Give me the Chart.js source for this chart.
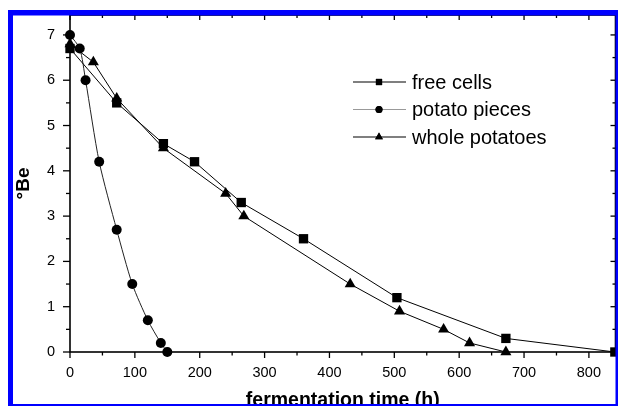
<!DOCTYPE html>
<html><head><meta charset="utf-8">
<script src="https://cdn.jsdelivr.net/npm/chart.js@4"></script>
<style>html,body{margin:0;padding:0;background:#fff;}#wrap{position:relative;width:618px;height:406px;}</style>
</head><body><div id="wrap"><canvas id="c" width="618" height="406"></canvas></div>
<script>
const seriesNames = ['free cells', 'potato pieces', 'whole potatoes'];
const freeCellsTime = [0, 72, 144, 192, 264, 360, 504, 672, 840];
const freeCellsBe = [6.7, 5.5, 4.6, 4.2, 3.3, 2.5, 1.2, 0.3, 0];
const piecesTime = [0, 15, 24, 45, 72, 96, 120, 140, 150];
const piecesBe = [7.0, 6.7, 6.0, 4.2, 2.7, 1.5, 0.7, 0.2, 0];
const wholeTime = [0, 36, 72, 144, 240, 268, 432, 508, 576, 616, 672];
const wholeBe = [6.8, 6.4, 5.6, 4.5, 3.5, 3.0, 1.5, 0.9, 0.5, 0.2, 0];
const xTickValues = [0, 100, 200, 300, 400, 500, 600, 700, 800];
const yTickValues = [0, 1, 2, 3, 4, 5, 6, 7];
const xTitle = 'fermentation time (h)';
const yTitle = '°Be';

const pts = (xs, ys) => xs.map((t, i) => ({x: t, y: ys[i]}));
const FONT = "'Liberation Sans', Arial, sans-serif";

const legendColors = ['#000', '#999', '#000'];
const legendStyles = ['rect', 'circle', 'triangle'];
const legendRadius = [4.4, 3.5, 4.5];

const framePlugin = {
  id: 'framePlugin',
  afterDraw(chart) {
    const {ctx, chartArea: a, scales: {x, y}} = chart;
    ctx.save();
    ctx.strokeStyle = '#000';
    ctx.lineWidth = 1.6;
    ctx.strokeRect(a.left, a.top, a.right - a.left, a.bottom - a.top);
    ctx.lineWidth = 1.3;
    const seg = (x1, y1, x2, y2) => { ctx.beginPath(); ctx.moveTo(x1, y1); ctx.lineTo(x2, y2); ctx.stroke(); };
    for (let v = 0; v <= 800; v += 50) {
      const px = x.getPixelForValue(v);
      const major = xTickValues.includes(v);
      seg(px, a.bottom, px, a.bottom + (major ? 6 : 3.5));
      seg(px, a.top, px, a.top + (major ? 5 : 3));
    }
    for (let v = 0; v <= 7; v += 0.5) {
      const py = y.getPixelForValue(v);
      const major = yTickValues.includes(v);
      seg(a.left, py, a.left - (major ? 7 : 4), py);
      seg(a.right, py, a.right - (major ? 5 : 3), py);
    }
    // legend
    chart.data.datasets.forEach((ds, i) => {
      const ly = 82 + i * 27.5;
      ctx.strokeStyle = legendColors[i];
      ctx.lineWidth = 1.2;
      seg(353, ly, 406, ly);
      Chart.helpers.drawPoint(ctx, {pointStyle: legendStyles[i], radius: legendRadius[i], borderWidth: 0}, 379, ly);
      ctx.fillStyle = '#000';
      ctx.fill();
      ctx.font = '20px ' + FONT;
      ctx.textAlign = 'left';
      ctx.textBaseline = 'middle';
      ctx.fillText(ds.label, 412, ly + 1);
    });
    // blue selection frame
    ctx.fillStyle = '#0000ff';
    ctx.fillRect(8, 10, 5, 396);
    ctx.fillRect(8, 10, 610, 5.5);
    ctx.fillRect(615.5, 10, 2.5, 396);
    ctx.fillRect(8, 404, 610, 2);
    ctx.restore();
  }
};

new Chart(document.getElementById('c'), {
  type: 'line',
  data: {
    datasets: [
      {label: seriesNames[0], data: pts(freeCellsTime, freeCellsBe), borderColor: '#000', backgroundColor: '#000', borderWidth: 1, pointStyle: 'rect', pointRadius: 6.6, pointBorderWidth: 0, tension: 0, clip: false},
      {label: seriesNames[1], data: pts(piecesTime, piecesBe), borderColor: '#222', backgroundColor: '#000', borderWidth: 1, pointStyle: 'circle', pointRadius: 5, pointBorderWidth: 0, tension: 0.25, clip: false},
      {label: seriesNames[2], data: pts(wholeTime, wholeBe), borderColor: '#000', backgroundColor: '#000', borderWidth: 1, pointStyle: 'triangle', pointRadius: 6.4, pointBorderWidth: 0, tension: 0, clip: false}
    ]
  },
  options: {
    responsive: false,
    animation: false,
    devicePixelRatio: 1,
    layout: {padding: {top: 15, right: 2.5, left: 0, bottom: 0}, autoPadding: false},
    plugins: {legend: {display: false}, tooltip: {enabled: false}},
    scales: {
      x: {
        type: 'linear', min: 0, max: 841,
        grid: {display: false, drawTicks: false, tickLength: 0},
        border: {display: false},
        afterBuildTicks: s => { s.ticks = xTickValues.map(v => ({value: v})); },
        afterFit: s => { s.height = 54; s.paddingLeft = 0; s.paddingRight = 0; },
        ticks: {padding: 12, color: '#000', font: {family: FONT, size: 14.5}, maxRotation: 0, autoSkip: false},
        title: {display: true, text: xTitle, color: '#000', font: {family: FONT, size: 19.5, weight: 'bold'}, padding: {top: 0, bottom: -6.5}}
      },
      y: {
        type: 'linear', min: 0, max: 7.44,
        grid: {display: false, drawTicks: false, tickLength: 0},
        border: {display: false},
        afterBuildTicks: s => { s.ticks = yTickValues.map(v => ({value: v})); },
        afterFit: s => { s.width = 70; s.paddingTop = 0; s.paddingBottom = 0; },
        ticks: {padding: 15, color: '#000', font: {family: FONT, size: 14.5}, autoSkip: false},
        title: {display: true, text: yTitle, color: '#000', font: {family: FONT, size: 19, weight: 'bold'}, padding: {top: 12, bottom: 0}}
      }
    }
  },
  plugins: [framePlugin]
});
</script></body></html>
